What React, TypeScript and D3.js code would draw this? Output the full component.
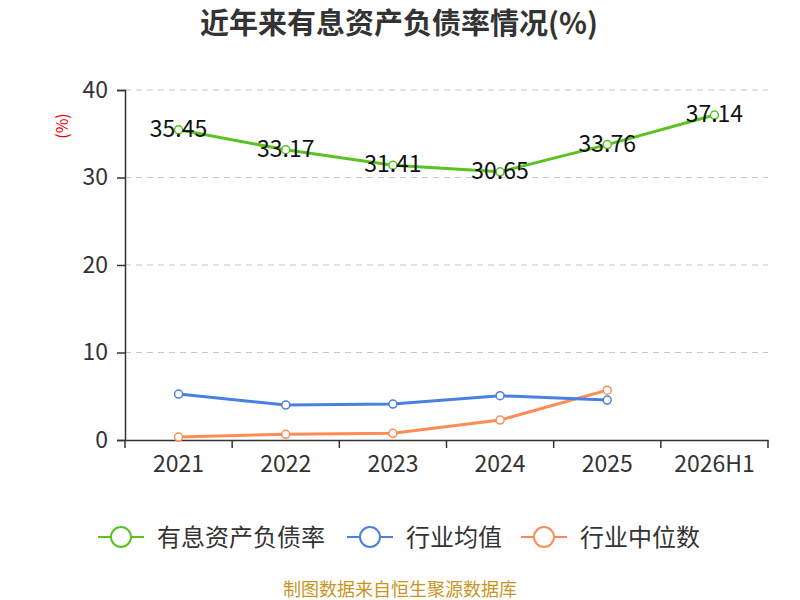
import { useEffect, useRef } from "react";
import * as d3 from "d3";

const years = ["2021", "2022", "2023", "2024", "2025", "2026H1"];
const debtRatio = [35.45, 33.17, 31.41, 30.65, 33.76, 37.14];
const industryAvg = [5.25, 3.99, 4.11, 5.06, 4.56];
const industryMedian = [0.34, 0.65, 0.76, 2.28, 5.7];
const yTicks = [0, 10, 20, 30, 40];

const seriesList = [
  { name: "有息资产负债率", values: debtRatio, color: "#5ac322", labels: true },
  { name: "行业均值", values: industryAvg, color: "#4a80e0", labels: false },
  { name: "行业中位数", values: industryMedian, color: "#ff8c55", labels: false },
];

const FONT = "'Noto Sans CJK SC', 'Noto Sans', sans-serif";

export default function App() {
  const svgRef = useRef<SVGSVGElement>(null);

  useEffect(() => {
    if (!svgRef.current) return;
    document.body.style.margin = "0";
    document.body.style.overflow = "hidden";

    const width = 800;
    const height = 600;
    const margin = { top: 90, right: 32, bottom: 160, left: 125 };
    const innerWidth = width - margin.left - margin.right;
    const innerHeight = height - margin.top - margin.bottom;

    const root = d3.select(svgRef.current);
    root.selectAll("*").remove();

    // title
    root
      .append("text")
      .attr("x", 399)
      .attr("y", 34)
      .attr("text-anchor", "middle")
      .attr("font-size", 29)
      .attr("font-weight", "bold")
      .attr("fill", "#333")
      .text("近年来有息资产负债率情况(%)");

    const svg = root
      .append("g")
      .attr("transform", `translate(${margin.left},${margin.top})`);

    const x = d3.scaleBand().domain(years).range([0, innerWidth]);
    const y = d3.scaleLinear().domain([0, 40]).range([innerHeight, 0]);

    // grid
    svg
      .append("g")
      .selectAll("line")
      .data(yTicks.filter((t) => t > 0))
      .join("line")
      .attr("x1", 0)
      .attr("x2", innerWidth)
      .attr("y1", (d) => y(d))
      .attr("y2", (d) => y(d))
      .attr("stroke", "#c8c8c8")
      .attr("stroke-width", 1.2)
      .attr("stroke-dasharray", "6,5");

    // y axis
    const yAxis = svg
      .append("g")
      .call(d3.axisLeft(y).tickValues(yTicks).tickSize(8).tickPadding(9));
    yAxis.select(".domain").attr("stroke", "#333").attr("stroke-width", 1.5);
    yAxis.selectAll(".tick line").attr("stroke", "#333").attr("stroke-width", 1.5);
    yAxis
      .selectAll(".tick text")
      .attr("font-size", 23)
      .attr("font-family", FONT)
      .attr("fill", "#333");

    // x axis
    const xAxis = svg
      .append("g")
      .attr("transform", `translate(0,${innerHeight})`)
      .call(d3.axisBottom(x).tickSize(0).tickPadding(16));
    xAxis.select(".domain").attr("stroke", "#333").attr("stroke-width", 1.5);
    xAxis
      .selectAll(".tick text")
      .attr("font-size", 23)
      .attr("font-family", FONT)
      .attr("fill", "#333");
    xAxis
      .selectAll(".boundary")
      .data(d3.range(years.length + 1))
      .join("line")
      .attr("x1", (i) => i * x.step())
      .attr("x2", (i) => i * x.step())
      .attr("y1", 0)
      .attr("y2", 8)
      .attr("stroke", "#333")
      .attr("stroke-width", 1.5);

    // unit label
    root
      .append("text")
      .attr("transform", `translate(68,126) rotate(-90)`)
      .attr("text-anchor", "middle")
      .attr("font-size", 16)
      .attr("fill", "#e00")
      .text("(%)");

    const cx = (i: number) => (x(years[i]) ?? 0) + x.bandwidth() / 2;
    const line = d3
      .line<number>()
      .x((_, i) => cx(i))
      .y((d) => y(d));

    seriesList
      .slice()
      .reverse()
      .forEach((s) => {
        svg
          .append("path")
          .datum(s.values)
          .attr("fill", "none")
          .attr("stroke", s.color)
          .attr("stroke-width", 3)
          .attr("d", line);
        svg
          .append("g")
          .selectAll("circle")
          .data(s.values)
          .join("circle")
          .attr("cx", (_, i) => cx(i))
          .attr("cy", (d) => y(d))
          .attr("r", 4)
          .attr("fill", "#fff")
          .attr("stroke", s.color)
          .attr("stroke-width", 1.5);
        if (s.labels) {
          svg
            .append("g")
            .selectAll("text")
            .data(s.values)
            .join("text")
            .attr("x", (_, i) => cx(i))
            .attr("y", (d) => y(d) + 7)
            .attr("text-anchor", "middle")
            .attr("font-size", 23)
            .attr("fill", "#111")
            .text((d) => d.toFixed(2));
        }
      });

    // legend
    const legendX = [98, 347, 521];
    const legend = root
      .append("g")
      .selectAll("g")
      .data(seriesList)
      .join("g")
      .attr("transform", (_, i) => `translate(${legendX[i]},537)`);
    legend
      .append("line")
      .attr("x1", 0)
      .attr("x2", 46)
      .attr("stroke", (d) => d.color)
      .attr("stroke-width", 2);
    legend
      .append("circle")
      .attr("cx", 23)
      .attr("r", 10)
      .attr("fill", "#fff")
      .attr("stroke", (d) => d.color)
      .attr("stroke-width", 2);
    legend
      .append("text")
      .attr("x", 59)
      .attr("y", 9)
      .attr("font-size", 24)
      .attr("fill", "#333")
      .text((d) => d.name);

    // source
    root
      .append("text")
      .attr("x", 400)
      .attr("y", 596)
      .attr("text-anchor", "middle")
      .attr("font-size", 18)
      .attr("fill", "#c8961e")
      .text("制图数据来自恒生聚源数据库");
  }, []);

  return (
    <svg
      ref={svgRef}
      width={800}
      height={600}
      style={{ display: "block", fontFamily: FONT }}
    />
  );
}
